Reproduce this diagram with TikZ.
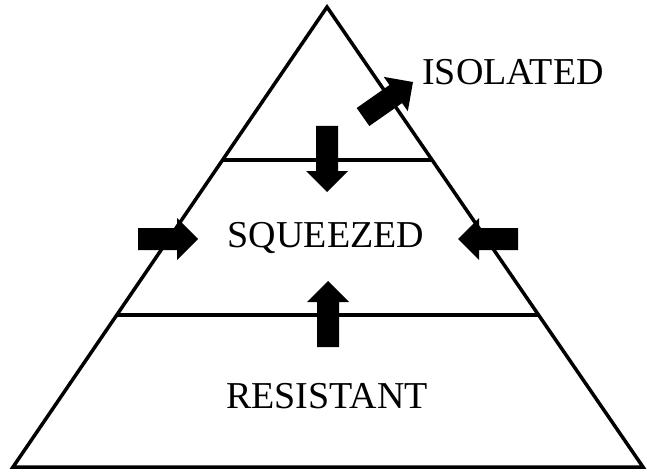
\documentclass[tikz,border=0pt]{standalone}
\usepackage{fontspec}
\setmainfont{Liberation Serif}
\usetikzlibrary{calc}

\tikzset{
  levellbl/.style={font=\fontsize{38}{40}\selectfont, anchor=base, inner sep=0pt},
  edge/.style={line width=3.5pt, line join=miter}
}

\begin{document}
\begin{tikzpicture}[x=1pt, y=1pt]
\useasboundingbox (0,0) rectangle (647,472);

% Pyramid outline
\coordinate (apex) at (327,465);
\coordinate (bl) at (13,5);
\coordinate (br) at (643,5);
\draw[edge] (apex) -- (br) -- (bl) -- cycle;

% Level dividers
\draw[edge] ($(apex)!0.333!(bl)$) -- ($(apex)!0.333!(br)$);
\draw[edge] ($(apex)!0.670!(bl)$) -- ($(apex)!0.670!(br)$);

% Level labels
\node[levellbl] (isolated)  at (513,387) {ISOLATED};
\node[levellbl] (squeezed)  at (326,225) {SQUEEZED};
\node[levellbl] (resistant) at (327,64)  {RESISTANT};

% Block arrows: tail x / tail y / angle / length
\foreach \px/\py/\ang/\len in {327/346/-90/66, 328/125/90/66, 138/233/0/60, 518/233/180/60, 363/355/35/61}{
  \fill[shift={(\px,\py)}, rotate=\ang]
    (0,-11) -- ({\len-21},-11) -- ({\len-21},-21) -- (\len,0)
    -- ({\len-21},21) -- ({\len-21},11) -- (0,11) -- cycle;
}

\end{tikzpicture}
\end{document}
